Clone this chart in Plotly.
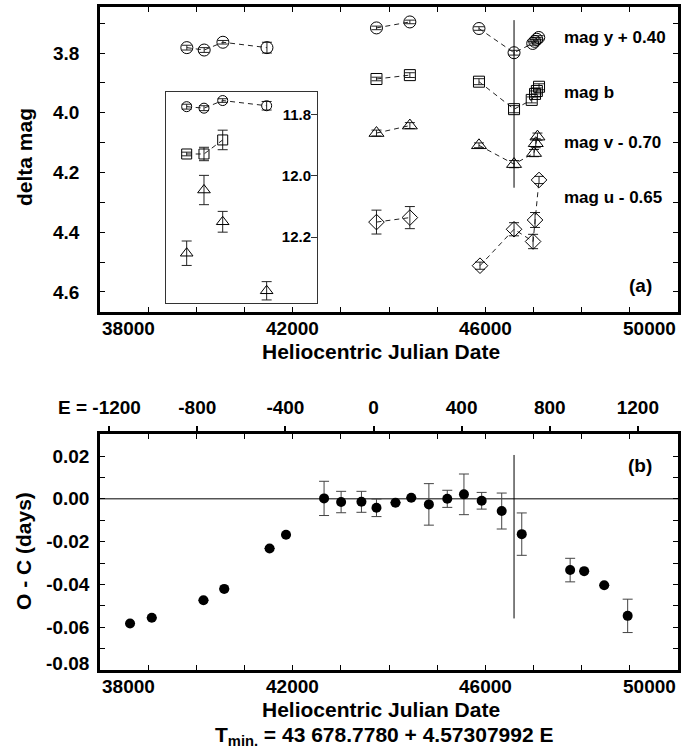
import plotly.graph_objects as go

W, H = 691, 748


def fx(p):
    return p / W


def fy(p):
    return 1 - p / H


FONT = "Liberation Sans, Arial, sans-serif"

# ephemeris  T_min = T0 + PERIOD * E
T0 = 43678.7780
PERIOD = 4.57307992

# ---------------- panel (a): main light-level series ----------------
y_hjd = [39803, 40163, 40552, 41466, 43740, 44433, 45868, 46596, 46984, 47026, 47067, 47109]
y_mag = [3.782, 3.790, 3.764, 3.782, 3.716, 3.696, 3.718, 3.799, 3.768, 3.761, 3.754, 3.748]
y_err = [0.008, 0.008, 0.006, 0.018, 0.006, 0.006, 0.006, 0.008, 0.006, 0.006, 0.006, 0.006]
y_grp = [0, 0, 0, 0, 1, 1, 2, 2, 2, 2, 2, 2]

b_hjd = [43740, 44433, 45868, 46596, 46963, 47032, 47070, 47115]
b_mag = [3.887, 3.874, 3.896, 3.988, 3.957, 3.937, 3.927, 3.913]
b_err = [0.006, 0.008, 0.010, 0.012, 0.010, 0.010, 0.010, 0.010]
b_grp = [1, 1, 2, 2, 2, 2, 2, 2]

v_hjd = [43740, 44433, 45868, 46596, 47011, 47047, 47082]
v_mag = [4.068, 4.043, 4.109, 4.172, 4.135, 4.102, 4.080]
v_err = [0.010, 0.010, 0.008, 0.012, 0.012, 0.015, 0.012]
v_grp = [1, 1, 2, 2, 2, 2, 2]

u_hjd = [43740, 44433, 45889, 46596, 46991, 47032, 47115]
u_mag = [4.366, 4.351, 4.512, 4.390, 4.431, 4.359, 4.225]
u_err = [0.040, 0.037, 0.012, 0.022, 0.024, 0.025, 0.012]
u_grp = [1, 1, 2, 2, 2, 2, 2]

series_labels = ["mag y + 0.40", "mag b", "mag v - 0.70", "mag u - 0.65"]

# ---------------- panel (a): inset (absolute magnitudes) ----------------
iy_hjd = [39803, 40163, 40552, 41466]
iy_mag = [11.773, 11.778, 11.753, 11.770]
iy_err = [0.008, 0.008, 0.006, 0.014]
ib_hjd = [39803, 40163, 40552]
ib_mag = [11.928, 11.928, 11.882]
ib_err = [0.006, 0.022, 0.032]
iv_hjd = [39803, 40163, 40552, 41466]
iv_mag = [12.253, 12.046, 12.150, 12.376]
iv_err = [0.040, 0.048, 0.034, 0.030]

# ---------------- panel (b): O - C ----------------
oc_hjd = [38624, 39075, 40148, 40579, 41521, 41862, 42652, 43006, 43428, 43740, 44135,
          44462, 44828, 45210, 45556, 45924, 46340, 46756, 47761, 48052, 48468, 48955]
oc_val = [-0.0583, -0.0556, -0.0474, -0.0421, -0.0232, -0.0168, 0.0002, -0.0015, -0.0014,
          -0.0042, -0.0018, 0.0005, -0.0026, 0.0000, 0.0021, -0.0009, -0.0057, -0.0165,
          -0.0333, -0.0338, -0.0404, -0.0547]
oc_err = [None, None, None, None, None, None, 0.0080, 0.0050, 0.0049, 0.0041, None,
          None, 0.0097, 0.0040, 0.0095, 0.0039, 0.0084, 0.0099, 0.0055, None, None, 0.0078]

# vertical marker line (same date in both panels)
mark_hjd = 46596
mark_mag = [3.690, 4.251]
mark_oc = [0.0205, -0.0559]

# axes
hjd_range = [38000, 50000]
hjd_ticks = list(range(38000, 50001, 1000))
hjd_labels = [38000, 42000, 46000, 50000]
mag_range = [4.667, 3.646]
mag_major = [3.8, 4.0, 4.2, 4.4, 4.6]
mag_minor = [3.7, 3.9, 4.1, 4.3, 4.5]
oc_range = [-0.08, 0.0303]
oc_major = [-0.06, -0.04, -0.02, 0.0, 0.02]
oc_minor = [-0.08, -0.07, -0.05, -0.03, -0.01, 0.01, 0.03]
e_major = [-800, -400, 0, 400, 800, 1200]
e_first = [-1200]
inset_ticks = [11.8, 12.0, 12.2]
inset_range = [12.416, 11.725]
inset_hjd_range = [39373, 42513]


def dashed(xs, ys, grps):
    lx, ly, prev = [], [], None
    for x, y, g in zip(xs, ys, grps):
        if g is None:
            continue
        if prev is not None and g != prev:
            lx.append(None)
            ly.append(None)
        lx.append(x)
        ly.append(y)
        prev = g
    return lx, ly


fig = go.Figure()

DASH = "5px,4px"
ERR = dict(type="data", color="#222", thickness=1, width=5)


def add_series(xs, ys, es, grps, symbol, size, xa, ya):
    if grps is not None:
        lx, ly = dashed(xs, ys, grps)
        fig.add_trace(go.Scatter(x=lx, y=ly, mode="lines", xaxis=xa, yaxis=ya,
                                 line=dict(color="#222", width=1, dash=DASH),
                                 hoverinfo="skip", showlegend=False))
    fig.add_trace(go.Scatter(
        x=xs, y=ys, mode="markers", xaxis=xa, yaxis=ya, showlegend=False,
        error_y=dict(array=es, **ERR),
        marker=dict(symbol=symbol, size=size, color="black",
                    line=dict(color="black", width=1))))


add_series(y_hjd, y_mag, y_err, y_grp, "circle-open", 12, "x", "y")
add_series(b_hjd, b_mag, b_err, b_grp, "square-open", 11, "x", "y")
add_series(v_hjd, v_mag, v_err, v_grp, "triangle-up-open", 13, "x", "y")
add_series(u_hjd, u_mag, u_err, u_grp, "diamond-open", 12, "x", "y")

fig.add_trace(go.Scatter(x=[mark_hjd, mark_hjd], y=mark_mag, mode="lines", xaxis="x", yaxis="y",
                         line=dict(color="black", width=1), showlegend=False, hoverinfo="skip"))

# inset
add_series(iy_hjd, iy_mag, iy_err, [0, 0, 0, 0], "circle-open", 10, "x4", "y4")
add_series(ib_hjd, ib_mag, ib_err, [0, 0, 0], "square-open", 10, "x4", "y4")
add_series(iv_hjd, iv_mag, iv_err, None, "triangle-up-open", 11, "x4", "y4")

# panel (b)
fig.add_trace(go.Scatter(x=hjd_range, y=[0, 0], mode="lines", xaxis="x2", yaxis="y2",
                         line=dict(color="black", width=1), showlegend=False, hoverinfo="skip"))
fig.add_trace(go.Scatter(x=[mark_hjd, mark_hjd], y=mark_oc, mode="lines", xaxis="x2", yaxis="y2",
                         line=dict(color="black", width=1), showlegend=False, hoverinfo="skip"))
fig.add_trace(go.Scatter(
    x=oc_hjd, y=oc_val, mode="markers", xaxis="x2", yaxis="y2", showlegend=False,
    error_y=dict(type="data", array=oc_err, color="#444", thickness=1, width=5),
    marker=dict(symbol="circle", size=10, color="black")))

# same O - C points on the cycle-number (E) axis, invisible: keeps the top E axis alive
oc_epoch = [(t - T0) / PERIOD for t in oc_hjd]
fig.add_trace(go.Scatter(x=oc_epoch, y=oc_val, mode="markers", xaxis="x3", yaxis="y2",
                         marker=dict(size=1, opacity=0), showlegend=False, hoverinfo="skip"))

TICKFONT = dict(family=FONT, size=19, color="black", weight="bold")
frame = dict(showline=True, linewidth=2.5, linecolor="black", mirror="allticks",
             ticks="inside", ticklen=5, tickwidth=1, tickcolor="black",
             showgrid=False, zeroline=False, tickfont=TICKFONT)
minor_in = dict(ticks="inside", ticklen=5, tickwidth=1, tickcolor="black", showgrid=False)

e_min = (hjd_range[0] - T0) / PERIOD
e_max = (hjd_range[1] - T0) / PERIOD

fig.update_layout(
    width=W, height=H,
    margin=dict(l=0, r=0, t=0, b=0),
    paper_bgcolor="white", plot_bgcolor="white",
    showlegend=False,
    font=dict(family=FONT, color="black"),
    xaxis=dict(domain=[fx(100), fx(678)], range=hjd_range, anchor="y",
               tickvals=hjd_ticks, showticklabels=False, **frame),
    yaxis=dict(domain=[fy(312), fy(7)], range=mag_range, anchor="x",
               tickvals=mag_major, ticktext=["%.1f" % t for t in mag_major],
               minor=dict(tickvals=mag_minor, **minor_in),
               ticklabelstandoff=14, **frame),
    xaxis2=dict(domain=[fx(100), fx(678)], range=hjd_range, anchor="y2",
                tickvals=hjd_ticks, showticklabels=False, **frame),
    yaxis2=dict(domain=[fy(670), fy(434)], range=oc_range, anchor="x2",
                tickvals=oc_major, ticktext=["%.2f" % t for t in oc_major],
                minor=dict(tickvals=oc_minor, **minor_in),
                ticklabelstandoff=4, **frame),
    xaxis3=dict(overlaying="x2", side="top", anchor="y2", range=[e_min, e_max],
                tickvals=e_major, ticktext=[str(t) for t in e_major],
                minor=dict(tickvals=e_first, ticks="outside", ticklen=7, tickwidth=1.5,
                           tickcolor="black", showgrid=False),
                ticks="outside", ticklen=7, tickwidth=1.5, tickcolor="black",
                showline=False, showgrid=False, zeroline=False, tickfont=TICKFONT,
                ticklabelstandoff=4),
    xaxis4=dict(domain=[fx(166), fx(317)], range=inset_hjd_range, anchor="y4",
                showline=True, linewidth=1, linecolor="#333", mirror=True,
                ticks="", showticklabels=False, showgrid=False, zeroline=False),
    yaxis4=dict(domain=[fy(303), fy(92)], range=inset_range, anchor="x4", side="right",
                showline=True, linewidth=1, linecolor="#333", mirror=True,
                tickvals=inset_ticks, ticktext=["%.1f" % t for t in inset_ticks],
                ticks="inside", ticklen=6, tickcolor="#333", ticklabelposition="inside",
                showgrid=False, zeroline=False,
                tickfont=dict(family=FONT, size=15, color="black", weight="bold")),
)

ann = []


def text(x, y, s, size, xanchor="center", yanchor="middle", angle=0, xref="paper", yref="paper"):
    ann.append(dict(x=x, y=y, xref=xref, yref=yref, text=s, showarrow=False,
                    xanchor=xanchor, yanchor=yanchor, textangle=angle,
                    font=dict(family=FONT, size=size, color="black", weight="bold")))


# HJD tick labels (ends aligned inside the frame, like the original)
for row_y in (328, 686):
    for v in hjd_labels:
        xa = "left" if v == hjd_range[0] else ("right" if v == hjd_range[1] else "center")
        text(v, fy(row_y), str(v), 19, xanchor=xa, xref="x")

text(fx(143), fy(408), "E = -1200", 19, xanchor="right")
text(fx(91), fy(663), "-0.08", 19, xanchor="right")

for lab, yy in zip(series_labels, [38, 92, 142, 197]):
    text(fx(562), fy(yy), lab, 17, xanchor="left")

text(fx(640), fy(285), "(a)", 19)
text(fx(640), fy(465), "(b)", 19)
text(fx(24), fy(157), "delta mag", 21, angle=-90)
text(fx(23), fy(551), "O - C (days)", 21, angle=-90)
text(fx(381), fy(351), "Heliocentric Julian Date", 21)
text(fx(381), fy(709), "Heliocentric Julian Date", 21)
text(fx(384), fy(736), "T<sub>min.</sub> = 43 678.7780 + 4.57307992 E", 21)

fig.update_layout(annotations=ann)
fig.write_html("out.html")
